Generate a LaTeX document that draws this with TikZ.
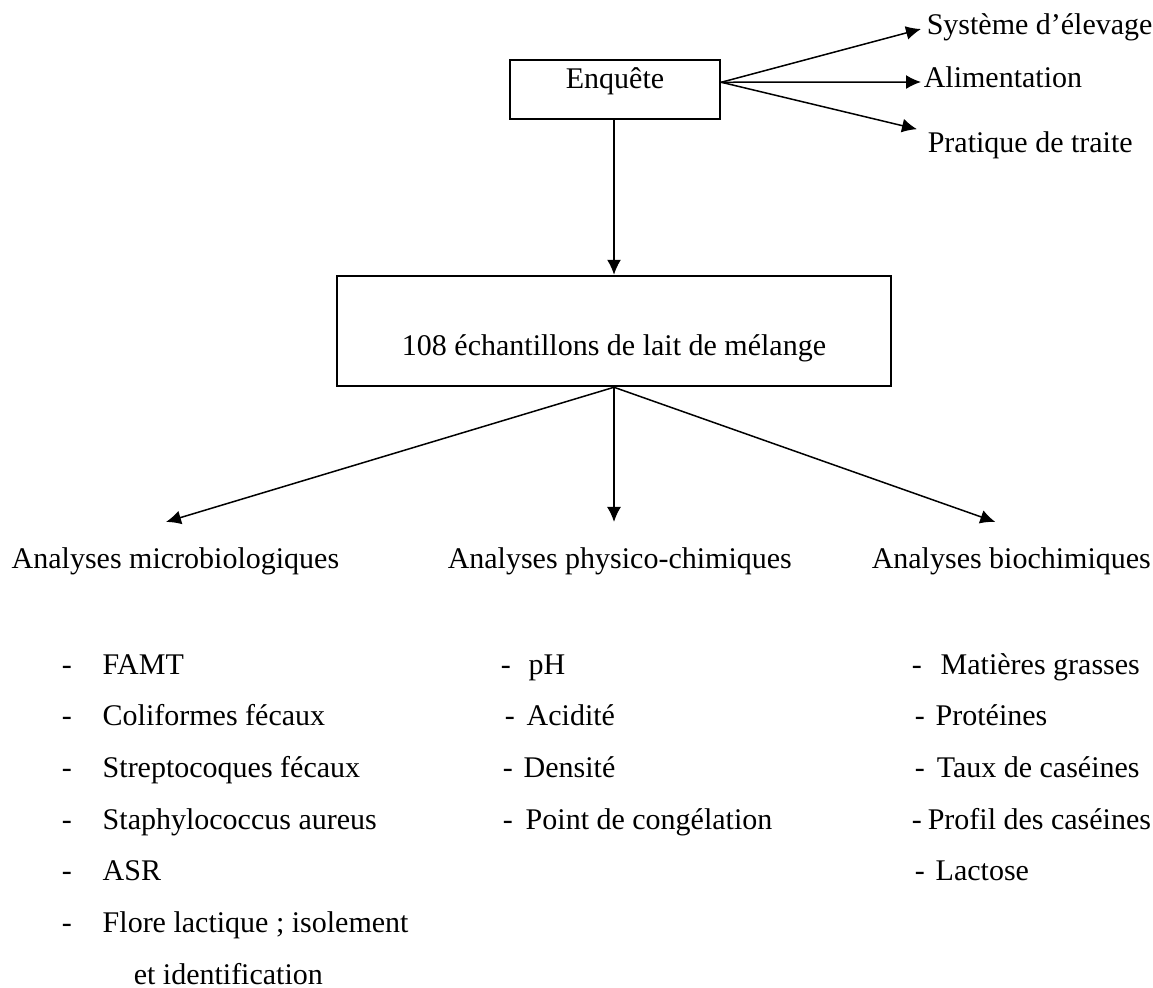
\documentclass[tikz,border=0pt]{standalone}
\usepackage{fontspec}
\setmainfont{Liberation Serif}
\usetikzlibrary{arrows.meta}
\newcommand{\dashitem}[2]{\makebox[#1][l]{-}#2}

\begin{document}
\begin{tikzpicture}[x=0.4pt,y=-0.4pt,>={Latex[length=6pt,width=5.6pt]}, line width=0.6pt,
  every node/.style={font=\fontsize{12}{14}\selectfont},
  box/.style={draw,line width=1pt,inner ysep=4pt},
  item/.style={anchor=base west,inner sep=0pt}]
\useasboundingbox (0,0) rectangle (1153,987);
\node[box,minimum width=84pt,text height=7.2pt,text depth=8.4pt] (enq) at (615,89.5) {Enquête};
\node[anchor=mid west,inner xsep=2pt] (sys) at (921,29) {Système d’élevage};
\node[anchor=mid west,inner xsep=0.8pt] (alim) at (921,82) {Alimentation};
\node[anchor=base west,inner xsep=4pt,inner ysep=0.5pt] (prat) at (917,152) {Pratique de traite};
\draw[->] (enq.mid east) -- (sys.mid west);
\draw[->] (enq.mid east) -- (alim.mid west);
\draw[->] (enq.mid east) -- (prat.north west);
\node[box,minimum width=221.6pt,text height=27.6pt,text depth=8.4pt] (samp) at (614,331) {108 échantillons de lait de mélange};
\draw[->] (enq.south -| samp.north) -- (samp.north);
\node[anchor=base west,inner xsep=0pt,inner ysep=9.8pt] (micro) at (11,568) {Analyses microbiologiques};
\node[anchor=base west,inner xsep=0pt,inner ysep=9.8pt] (physico) at (447,568) {Analyses physico-chimiques};
\node[anchor=base west,inner xsep=0pt,inner ysep=9.8pt] (bio) at (871,568) {Analyses biochimiques};
\draw[->] (samp.south) -- ([xshift=-3.8pt]micro.north);
\draw[->] (samp.south) -- (samp.south |- physico.north);
\draw[->] (samp.south) -- ([xshift=-6.4pt]bio.north);
% analyses microbiologiques
\node[item] (m1) at (61,674) {\dashitem{16.4pt}{FAMT}};
\node[item] (m2) at (61,725.5) {\dashitem{16.4pt}{Coliformes fécaux}};
\node[item] (m3) at (61,777) {\dashitem{16.4pt}{Streptocoques fécaux}};
\node[item] (m4) at (61,829) {\dashitem{16.4pt}{Staphylococcus aureus}};
\node[item] (m5) at (61,880.5) {\dashitem{16.4pt}{ASR}};
\node[item] (m6) at (61,932) {\dashitem{16.4pt}{Flore lactique ; isolement}};
\node[item] (m7) at (133,984) {et identification};
% analyses physico-chimiques
\node[item] (p1) at (500,674) {\dashitem{11.2pt}{pH}};
\node[item] (p2) at (504,725.5) {\dashitem{8.8pt}{Acidité}};
\node[item] (p3) at (502,777) {\dashitem{8.4pt}{Densité}};
\node[item] (p4) at (502,829) {\dashitem{9.2pt}{Point de congélation}};
% analyses biochimiques
\node[item] (b1) at (911,674) {\dashitem{11.6pt}{Matières grasses}};
\node[item] (b2) at (914,725.5) {\dashitem{8.4pt}{Protéines}};
\node[item] (b3) at (914,777) {\dashitem{8.8pt}{Taux de caséines}};
\node[item] (b4) at (911,829) {\dashitem{6.4pt}{Profil des caséines}};
\node[item] (b5) at (914,880.5) {\dashitem{8.4pt}{Lactose}};
\end{tikzpicture}
\end{document}
